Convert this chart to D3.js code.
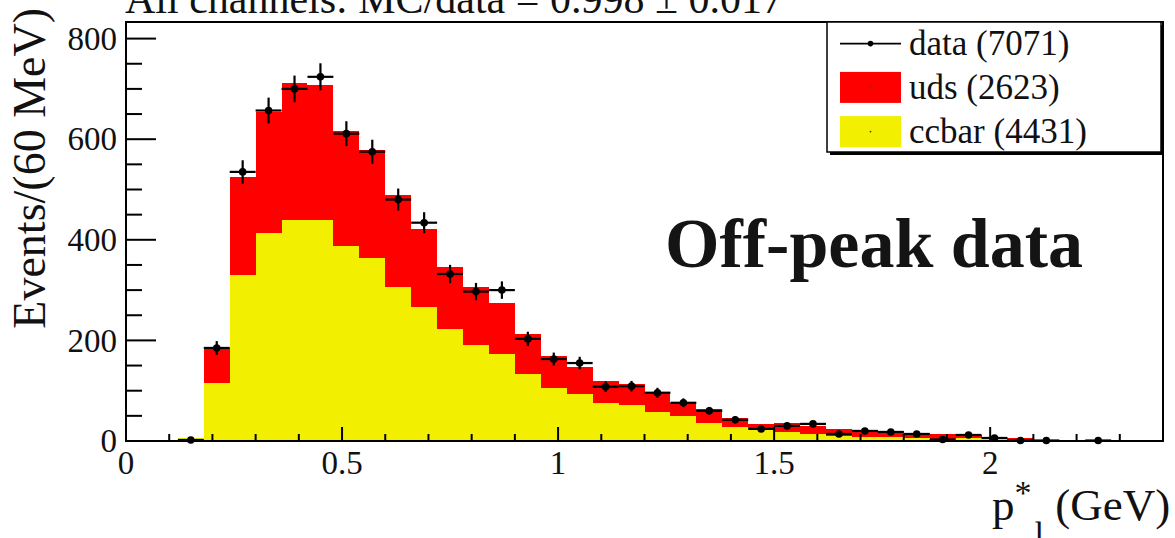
<!DOCTYPE html>
<html>
<head>
<meta charset="utf-8">
<script src="https://cdn.jsdelivr.net/npm/d3@7/dist/d3.min.js"></script>
<style>
  html, body { margin: 0; padding: 0; background: #fff; }
  svg { display: block; }
  text { font-family: "Liberation Serif", "Times New Roman", serif; fill: #111; }
</style>
</head>
<body>
<svg id="chart" width="1175" height="538"></svg>
<script>
// Lepton momentum spectrum in the CM frame, 60 MeV bins starting at 0.12 GeV
const binStart = 0.12;
const binWidth = 0.06;
const ccbar = [5,115,330,414,440,440,388,364,306,267,223,191,173,133,106,94,76,71,58,50,36,28,26,18,14,10,8,8,6,4,5,3,1,0,0,0];
const uds   = [0,70,195,241,271,268,229,215,184,155,123,115,102,80,63,53,43,42,40,26,28,18,8,18,16,14,14,12,10,10,7,4,4,0,0,0];
const data  = [2,185,535,657,700,724,611,575,480,434,332,297,300,203,163,155,108,109,96,76,60,42,24,30,34,14,20,18,14,3,12,6,1,1,0,1];

const xMajorTicks = [0, 0.5, 1, 1.5, 2];
const xTickLabels = ["0", "0.5", "1", "1.5", "2"];
const yMajorTicks = [0, 200, 400, 600, 800];
const yTickLabels = ["0", "200", "400", "600", "800"];

const legendEntries = ["data (7071)", "uds (2623)", "ccbar (4431)"];
const titleText = "All channels: MC/data = 0.998 \u00b1 0.017";

const colUds = "#ff0000";
const colCcbar = "#f2ef00";

const svg = d3.select("#chart");
const frame = { left: 126, right: 1163, top: 22, bottom: 441 };

const x = d3.scaleLinear().domain([0, 2.4]).range([frame.left, frame.right]);
const y = d3.scaleLinear().domain([0, 833]).range([frame.bottom, frame.top]);

const bins = ccbar.map((c, i) => {
  const lo = binStart + i * binWidth;
  return { lo, hi: lo + binWidth, mid: lo + binWidth / 2, c, u: uds[i], d: data[i] };
});

// stacked histogram: ccbar at the bottom, uds on top
const hist = svg.append("g").attr("shape-rendering", "crispEdges");
hist.selectAll("rect.cc").data(bins.filter(b => b.c > 0)).join("rect")
  .attr("class", "cc")
  .attr("x", b => x(b.lo)).attr("width", b => x(b.hi) - x(b.lo))
  .attr("y", b => y(b.c)).attr("height", b => y(0) - y(b.c))
  .attr("fill", colCcbar);
hist.selectAll("rect.ud").data(bins.filter(b => b.u > 0)).join("rect")
  .attr("class", "ud")
  .attr("x", b => x(b.lo)).attr("width", b => x(b.hi) - x(b.lo))
  .attr("y", b => y(b.c + b.u)).attr("height", b => y(b.c) - y(b.c + b.u))
  .attr("fill", colUds);

// axes frame and ticks
const axes = svg.append("g");
axes.append("rect")
  .attr("x", frame.left).attr("y", frame.top)
  .attr("width", frame.right - frame.left).attr("height", frame.bottom - frame.top)
  .attr("fill", "none").attr("stroke", "#000").attr("stroke-width", 2);

const xMinor = d3.range(0, 24).map(i => i * 0.1);
axes.selectAll("line.xt").data(xMinor).join("line")
  .attr("x1", d => x(d)).attr("x2", d => x(d))
  .attr("y1", frame.bottom)
  .attr("y2", d => frame.bottom - (xMajorTicks.some(m => Math.abs(m - d) < 1e-6) ? 14 : 7))
  .attr("stroke", "#000").attr("stroke-width", 2);

const yMinor = d3.range(0, 17).map(i => i * 50);
axes.selectAll("line.yt").data(yMinor).join("line")
  .attr("y1", d => y(d)).attr("y2", d => y(d))
  .attr("x1", frame.left)
  .attr("x2", d => frame.left + (d % 200 === 0 ? 30 : 16))
  .attr("stroke", "#000").attr("stroke-width", 2);

axes.selectAll("text.xl").data(xMajorTicks).join("text")
  .attr("x", d => x(d)).attr("y", 474)
  .attr("text-anchor", "middle").attr("font-size", 33)
  .text((d, i) => xTickLabels[i]);

axes.selectAll("text.yl").data(yMajorTicks).join("text")
  .attr("x", 117).attr("y", d => y(d)).attr("dy", "0.34em")
  .attr("text-anchor", "end").attr("font-size", 33)
  .text((d, i) => yTickLabels[i]);

// data points with statistical errors
const pts = svg.append("g");
const shown = bins.filter(b => b.d > 0);
pts.selectAll("line.h").data(shown).join("line")
  .attr("x1", b => x(b.lo)).attr("x2", b => x(b.hi))
  .attr("y1", b => y(b.d)).attr("y2", b => y(b.d))
  .attr("stroke", "#000").attr("stroke-width", 2.2);
pts.selectAll("line.v").data(shown).join("line")
  .attr("x1", b => x(b.mid)).attr("x2", b => x(b.mid))
  .attr("y1", b => y(b.d + Math.sqrt(b.d))).attr("y2", b => y(Math.max(0, b.d - Math.sqrt(b.d))))
  .attr("stroke", "#000").attr("stroke-width", 2.2);
pts.selectAll("circle").data(shown).join("circle")
  .attr("cx", b => x(b.mid)).attr("cy", b => y(b.d)).attr("r", 3.8)
  .attr("fill", "#000");

// title
svg.append("text").attr("x", 125).attr("y", 12.5).attr("font-size", 42).text(titleText);

// axis titles
svg.append("text")
  .attr("transform", "translate(45,8) rotate(-90)")
  .attr("text-anchor", "end").attr("font-size", 46)
  .text("Events/(60 MeV)");

const xt = svg.append("text").attr("x", 992).attr("y", 520).attr("font-size", 45);
xt.append("tspan").text("p");
xt.append("tspan").attr("dy", -16).attr("font-size", 34).text("*");
xt.append("tspan").attr("dy", 41).attr("dx", 3).attr("font-size", 34).text("l");
xt.append("tspan").attr("dy", -25).text(" (GeV)");

// annotation
svg.append("text").attr("x", 665).attr("y", 267)
  .attr("font-size", 70).attr("font-weight", "bold").style("fill", "#141414")
  .text("Off-peak data");

// legend
const lg = svg.append("g");
const L = { x: 827, y: 22, w: 334, h: 130 };
lg.append("rect").attr("x", L.x + 3).attr("y", L.y + 3).attr("width", L.w).attr("height", L.h).attr("fill", "#000");
lg.append("rect").attr("x", L.x).attr("y", L.y).attr("width", L.w).attr("height", L.h)
  .attr("fill", "#fff").attr("stroke", "#000").attr("stroke-width", 1.5);

const rowY = [43.6, 87.4, 131.6];
lg.append("line").attr("x1", 840).attr("x2", 901).attr("y1", rowY[0]).attr("y2", rowY[0])
  .attr("stroke", "#000").attr("stroke-width", 1.6);
lg.append("circle").attr("cx", 870.5).attr("cy", rowY[0]).attr("r", 2.8).attr("fill", "#000");
[colUds, colCcbar].forEach((c, i) => {
  lg.append("rect").attr("x", 840).attr("y", rowY[i + 1] - 15.5).attr("width", 61).attr("height", 31)
    .attr("fill", c);
  lg.append("circle").attr("cx", 870.5).attr("cy", rowY[i + 1]).attr("r", 0.9).attr("fill", "#444");
});
lg.selectAll("text").data(legendEntries).join("text")
  .attr("x", 909).attr("y", (d, i) => rowY[i]).attr("dy", "0.33em")
  .attr("font-size", 35).text(d => d);
</script>
</body>
</html>
